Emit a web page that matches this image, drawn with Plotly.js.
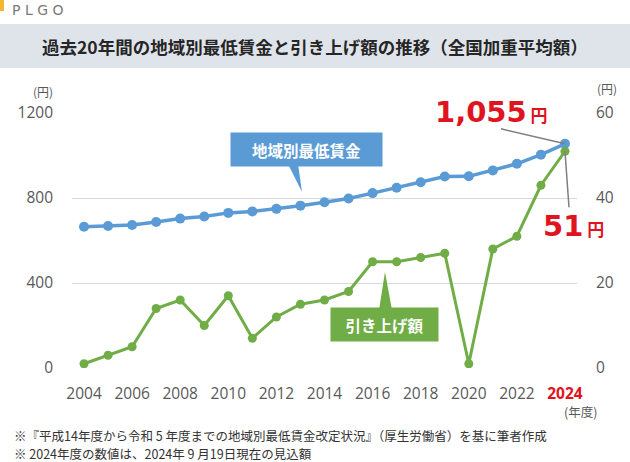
<!DOCTYPE html>
<html>
<head>
<meta charset="utf-8">
<script src="https://cdn.plot.ly/plotly-3.0.1.min.js"></script>
<style>body{margin:0;background:#fff}#chart{width:630px;height:462px}</style>
</head>
<body>
<div id="chart"></div>
<script>
var years = [2004, 2005, 2006, 2007, 2008, 2009, 2010, 2011, 2012, 2013, 2014,
    2015, 2016, 2017, 2018, 2019, 2020, 2021, 2022, 2023, 2024];
var wage = [665, 668, 673, 687, 703, 713, 730, 737, 749, 764, 780,
    798, 823, 848, 874, 901, 902, 930, 961, 1004, 1055];
var raise = [1, 3, 5, 14, 16, 10, 17, 7, 12, 15, 16,
    18, 25, 25, 26, 27, 1, 28, 31, 43, 51];
var tickYears = [2004, 2006, 2008, 2010, 2012, 2014, 2016, 2018, 2020, 2022, 2024];
var tickText = tickYears.map(function (y) {
    return y === 2024 ? '<b><span style="color:#e0141e">2024</span></b>' : String(y);
});
var notes = [
    '※『平成14年度から令和 5 年度までの地域別最低賃金改定状況』（厚生労働省）を基に筆者作成',
    '※ 2024年度の数値は、2024年 9 月19日現在の見込額'
];

// plot area in page pixels
var L = 72, R = 577, T = 113, B = 368;
function px(x) { return (x - L) / (R - L); }
function py(y) { return (B - y) / (B - T); }

var jp = '"Noto Sans CJK JP", "Noto Sans", sans-serif';
var num = '"Open Sans", sans-serif';
var grey = '#595959';
var red = '#e0141e';
var blue = '#5b9bd5';
var green = '#70ad47';

var traces = [
    {
        x: years, y: wage, type: 'scatter', mode: 'lines+markers',
        line: {color: blue, width: 3.5},
        marker: {color: blue, size: 10},
        hoverinfo: 'skip'
    },
    {
        x: years, y: raise, type: 'scatter', mode: 'lines+markers', yaxis: 'y2',
        line: {color: green, width: 3},
        marker: {color: green, size: 9},
        hoverinfo: 'skip'
    }
];

var shapes = [
    // title band
    {type: 'rect', xref: 'paper', yref: 'paper', layer: 'below',
        x0: px(0), x1: px(630), y0: py(24), y1: py(68),
        fillcolor: '#dfe4ea', line: {width: 0}},
    // logo mark
    {type: 'rect', xref: 'paper', yref: 'paper',
        x0: px(0), x1: px(4), y0: py(0), y1: py(11),
        fillcolor: '#f2b632', line: {width: 0}},
    // callout tails
    {type: 'path', xref: 'paper', yref: 'paper',
        path: 'M' + px(288) + ',' + py(164) + ' L' + px(298) + ',' + py(164) + ' L' + px(302) + ',' + py(192) + ' Z',
        fillcolor: blue, line: {width: 0}},
    {type: 'path', xref: 'paper', yref: 'paper',
        path: 'M' + px(379) + ',' + py(310) + ' L' + px(392) + ',' + py(310) + ' L' + px(385) + ',' + py(272) + ' Z',
        fillcolor: green, line: {width: 0}},
    // leader lines to the 2024 values
    {type: 'line', xref: 'x', yref: 'y', xsizemode: 'pixel', ysizemode: 'pixel',
        xanchor: years[years.length - 1], yanchor: wage[wage.length - 1],
        x0: 0, y0: 0, x1: -64, y1: 15, line: {color: '#7f7f7f', width: 1.5}},
    {type: 'line', xref: 'x', yref: 'y2', xsizemode: 'pixel', ysizemode: 'pixel',
        xanchor: years[years.length - 1], yanchor: raise[raise.length - 1],
        x0: 0, y0: 0, x1: 4, y1: -56, line: {color: '#7f7f7f', width: 1.5}}
];

var annotations = [
    {xref: 'paper', yref: 'paper', x: px(10), y: py(0), xanchor: 'left', yanchor: 'top',
        text: 'P L G O', showarrow: false, font: {family: '"DejaVu Sans", sans-serif', size: 14, color: '#7a7a7a'}},
    {xref: 'paper', yref: 'paper', x: px(315), y: py(46), xanchor: 'center', yanchor: 'middle',
        text: '<b>過去20年間の地域別最低賃金と引き上げ額の推移（全国加重平均額）</b>', showarrow: false,
        font: {family: jp, size: 17.5, color: '#262626'}},
    {xref: 'paper', yref: 'paper', x: px(43), y: py(91), xanchor: 'center', yanchor: 'middle',
        text: '(円)', showarrow: false, font: {family: jp, size: 12, color: grey}},
    {xref: 'paper', yref: 'paper', x: px(607), y: py(89), xanchor: 'center', yanchor: 'middle',
        text: '(円)', showarrow: false, font: {family: jp, size: 12, color: grey}},
    {xref: 'paper', yref: 'paper', x: px(580), y: py(411), xanchor: 'center', yanchor: 'middle',
        text: '(年度)', showarrow: false, font: {family: jp, size: 12.5, color: grey}},
    {xref: 'paper', yref: 'paper', x: px(306.5), y: py(149.5), xanchor: 'center', yanchor: 'middle',
        text: '<b>地域別最低賃金</b>', showarrow: false, width: 149, height: 31, bgcolor: blue,
        font: {family: jp, size: 15.5, color: '#ffffff'}},
    {xref: 'paper', yref: 'paper', x: px(384.5), y: py(324.5), xanchor: 'center', yanchor: 'middle',
        text: '<b>引き上げ額</b>', showarrow: false, width: 105, height: 31, bgcolor: green,
        font: {family: jp, size: 15.5, color: '#ffffff'}},
    {xref: 'paper', yref: 'paper', x: px(491), y: py(112), xanchor: 'center', yanchor: 'middle',
        text: '<b>1,055</b><b><span style="font-size:17px;font-family:Noto Sans CJK JP"> 円</span></b>', showarrow: false,
        font: {family: '"DejaVu Sans", sans-serif', size: 29, color: red}},
    {xref: 'paper', yref: 'paper', x: px(573), y: py(226), xanchor: 'center', yanchor: 'middle',
        text: '<b>51</b><b><span style="font-size:17px;font-family:Noto Sans CJK JP"> 円</span></b>', showarrow: false,
        font: {family: '"DejaVu Sans", sans-serif', size: 29, color: red}},
    {xref: 'paper', yref: 'paper', x: px(13), y: py(435.5), xanchor: 'left', yanchor: 'middle',
        text: notes[0], showarrow: false, borderpad: 0,
        font: {family: jp, size: 12.5, color: '#333333'}},
    {xref: 'paper', yref: 'paper', x: px(13), y: py(453), xanchor: 'left', yanchor: 'middle',
        text: notes[1], showarrow: false, borderpad: 0,
        font: {family: jp, size: 12.5, color: '#333333'}}
];

var layout = {
    width: 630, height: 462,
    margin: {l: L, r: 630 - R, t: T, b: 462 - B},
    paper_bgcolor: '#ffffff', plot_bgcolor: '#ffffff',
    showlegend: false,
    font: {family: jp, color: grey},
    xaxis: {
        range: [2003.5, 2024.5], tickmode: 'array', tickvals: tickYears, ticktext: tickText,
        showgrid: false, zeroline: false, showline: false, ticks: '', ticklabelstandoff: 14,
        tickfont: {family: num, size: 15.5, color: grey}
    },
    yaxis: {
        range: [0, 1200], tickvals: [0, 400, 800, 1200], showgrid: true, gridcolor: '#d9d9d9',
        zeroline: false, showline: false, ticks: '', ticklabelstandoff: 18,
        tickfont: {family: num, size: 15.5, color: grey}
    },
    yaxis2: {
        range: [0, 60], tickvals: [0, 20, 40, 60], overlaying: 'y', side: 'right',
        showgrid: false, zeroline: false, showline: false, ticks: '', ticklabelstandoff: 18,
        tickfont: {family: num, size: 15.5, color: grey}
    },
    shapes: shapes,
    annotations: annotations
};

Plotly.newPlot('chart', traces, layout, {displayModeBar: false, staticPlot: true});
</script>
</body>
</html>
